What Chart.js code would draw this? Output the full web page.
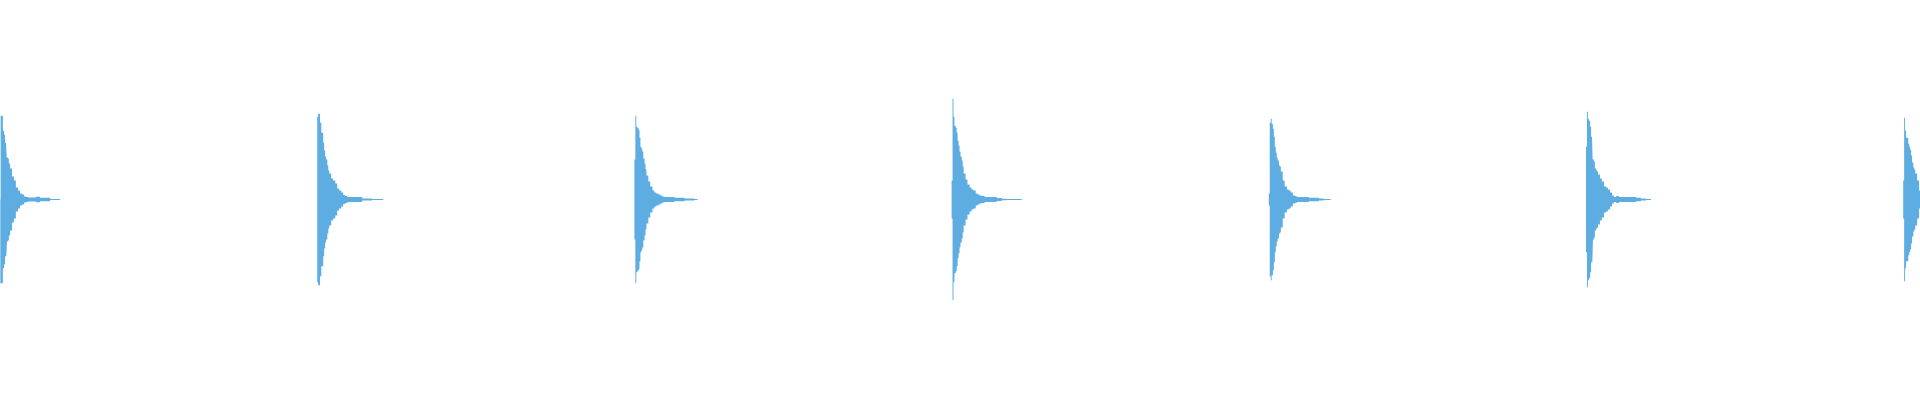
<!DOCTYPE html>
<html>
<head>
<meta charset="utf-8">
<title>Waveform</title>
<script src="https://cdn.jsdelivr.net/npm/chart.js@4/dist/chart.umd.min.js"></script>
<style>
  html, body { margin: 0; padding: 0; background: #fff; }
  #wrap { width: 1920px; height: 400px; position: relative; }
</style>
</head>
<body>
<div id="wrap"><canvas id="wave"></canvas></div>
<script>
// Time axis in ms, one hit every second
const onsets = [0, 1000, 2000, 3000, 4000, 5000, 6000];
const totalMs = 6053;

// Sample times after each onset (ms)
const offsets = [0, 3, 6, 9, 13, 16, 19, 22, 25, 28, 32, 35, 38, 44, 50, 57, 63, 69, 76, 82, 88, 95, 104, 113, 126, 142, 158, 173, 189, 205];

// Where each hit's tail dies out (ms after onset)
const tailEnds = [189, 208, 199, 221, 195, 205, 60];

// Peak amplitude (normalised, full scale = 1) for each hit
const hit1 = [0.29, 0.42, 0.42, 0.345, 0.325, 0.285, 0.24, 0.21, 0.205, 0.18, 0.155, 0.155, 0.115, 0.095, 0.06, 0.045, 0.03, 0.025, 0.015, 0.012, 0.01, 0.01, 0.01, 0.014, 0.009, 0.009, 0.0025, 0.0025, 0, 0];
const hit2 = [0.415, 0.43, 0.43, 0.385, 0.335, 0.335, 0.285, 0.245, 0.215, 0.2, 0.17, 0.145, 0.13, 0.105, 0.095, 0.08, 0.055, 0.045, 0.035, 0.022, 0.018, 0.013, 0.013, 0.012, 0.012, 0.005, 0.005, 0.0025, 0.0025, 0.0025];
const hit3 = [0.2, 0.42, 0.365, 0.36, 0.35, 0.31, 0.265, 0.255, 0.24, 0.205, 0.18, 0.15, 0.12, 0.09, 0.065, 0.045, 0.035, 0.03, 0.025, 0.02, 0.015, 0.012, 0.012, 0.012, 0.009, 0.009, 0.005, 0.005, 0.0025, 0];
const hit4 = [0.095, 0.505, 0.415, 0.37, 0.36, 0.335, 0.295, 0.27, 0.24, 0.215, 0.195, 0.165, 0.13, 0.1, 0.075, 0.06, 0.05, 0.045, 0.03, 0.025, 0.02, 0.017, 0.012, 0.012, 0.012, 0.007, 0.0035, 0.0025, 0.0025, 0.0025];
const hit5 = [0.03, 0.385, 0.405, 0.38, 0.355, 0.315, 0.265, 0.235, 0.21, 0.195, 0.17, 0.165, 0.14, 0.095, 0.065, 0.05, 0.045, 0.035, 0.02, 0.017, 0.013, 0.013, 0.012, 0.012, 0.009, 0.009, 0.005, 0.0025, 0.0025, 0];
const hit6 = [0.265, 0.44, 0.405, 0.395, 0.365, 0.315, 0.245, 0.2, 0.19, 0.155, 0.145, 0.14, 0.125, 0.105, 0.09, 0.065, 0.06, 0.05, 0.035, 0.02, 0.013, 0.017, 0.012, 0.012, 0.012, 0.012, 0.009, 0.005, 0.0025, 0];
const hit7 = [0.095, 0.41, 0.345, 0.31, 0.31, 0.28, 0.265, 0.25, 0.22, 0.185, 0.16, 0.15, 0.13, 0.095, 0.045];

const hits = [hit1, hit2, hit3, hit4, hit5, hit6, hit7];

// build the upper / lower envelope as explicit steps (start + end of each sample)
const upper = [];
const lower = [];
hits.forEach(function(amps, h) {
    const t0 = onsets[h];
    upper.push({ x: t0, y: 0 });
    lower.push({ x: t0, y: 0 });
    amps.forEach(function(a, i) {
        if (offsets[i] >= tailEnds[h]) return;
        const next = (i + 1 < amps.length) ? Math.min(offsets[i + 1], tailEnds[h]) : tailEnds[h];
        upper.push({ x: t0 + offsets[i], y: a }, { x: t0 + next, y: a });
        lower.push({ x: t0 + offsets[i], y: -a }, { x: t0 + next, y: -a });
    });
    upper.push({ x: t0 + tailEnds[h], y: 0 });
    lower.push({ x: t0 + tailEnds[h], y: 0 });
});

const waveColor = '#5dade2';

new Chart(document.getElementById('wave'), {
    type: 'line',
    data: {
        datasets: [{
            data: upper,
            borderWidth: 0,
            pointRadius: 0,
            tension: 0,
            backgroundColor: waveColor,
            fill: '+1'
        }, {
            data: lower,
            borderWidth: 0,
            pointRadius: 0,
            tension: 0,
            backgroundColor: waveColor,
            fill: false
        }]
    },
    options: {
        responsive: true,
        maintainAspectRatio: false,
        animation: false,
        layout: { padding: { left: 0, right: 0, top: 0, bottom: 1 } },
        plugins: {
            legend: { display: false },
            tooltip: { enabled: false }
        },
        scales: {
            x: { type: 'linear', min: 0, max: totalMs, display: false },
            y: { min: -1, max: 1, display: false }
        }
    }
});
</script>
</body>
</html>
